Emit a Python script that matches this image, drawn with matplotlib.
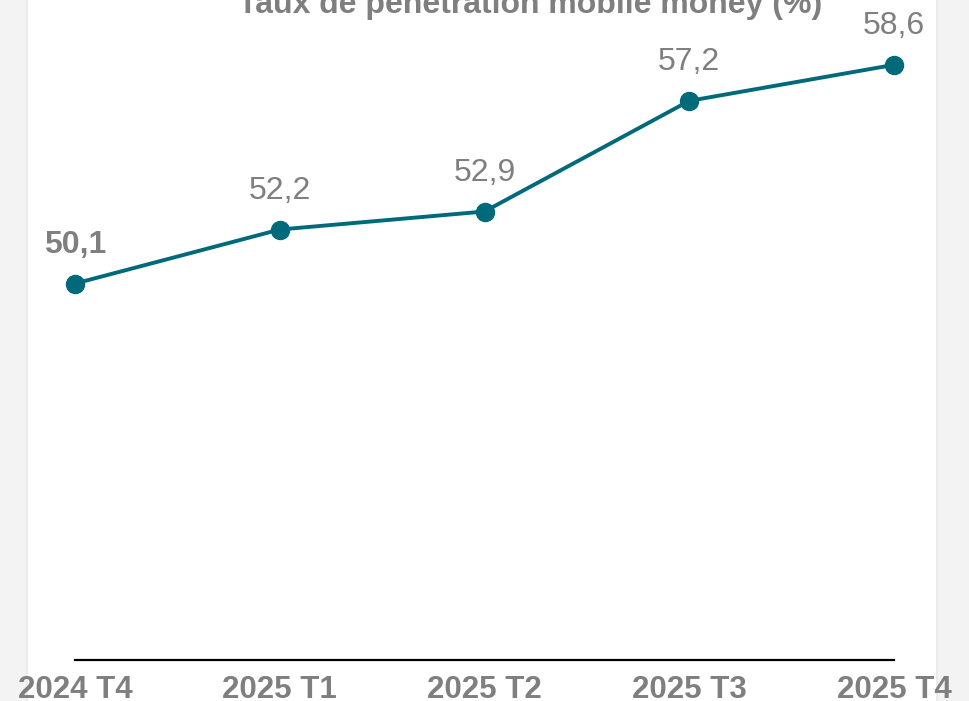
import matplotlib
matplotlib.use('Agg')
import matplotlib.pyplot as plt
from matplotlib.patches import FancyBboxPatch

periods = ['2024 T4', '2025 T1', '2025 T2', '2025 T3', '2025 T4']
rates = [50.1, 52.2, 52.9, 57.2, 58.6]
labels = ['50,1', '52,2', '52,9', '57,2', '58,6']

plt.rcParams['font.family'] = ['Liberation Sans', 'DejaVu Sans']
W, H = 970, 701
fig = plt.figure(figsize=(W / 100, H / 100), dpi=100)
fig.patch.set_facecolor('#f3f3f3')

# white card behind the chart, in its own background axes
bg = fig.add_axes([0, 0, 1, 1], zorder=-1)
bg.axis('off')
bg.set_xlim(0, W)
bg.set_ylim(H, 0)
bg.add_patch(FancyBboxPatch((27, -40), 910, 780,
                            boxstyle='round,pad=0,rounding_size=30',
                            facecolor='white', edgecolor='#ebebeb',
                            linewidth=1.5))

ax = fig.add_axes([75 / W, 41 / H, (894 - 75) / W, 660 / H])
ax.set_facecolor('none')
x = list(range(len(periods)))
ax.plot(x, rates, color='#006a7a', linewidth=2.8, marker='o',
        markersize=13, clip_on=False, zorder=3)
ax.set_xlim(0, len(periods) - 1)
ax.set_ylim(35.47, 61.12)

for i, (v, s) in enumerate(zip(rates, labels)):
    bold = i == 0
    ax.annotate(s, (i, v), xytext=(0, 17), textcoords='offset points',
                ha='center', va='bottom', fontsize=23, color='#7f7f7f',
                fontweight='bold' if bold else 'normal')

for side in ['top', 'right', 'left']:
    ax.spines[side].set_visible(False)
ax.spines['bottom'].set_linewidth(1.6)
ax.spines['bottom'].set_color('black')
ax.set_yticks([])
ax.set_xticks(x)
ax.set_xticklabels(periods, fontsize=22.5, fontweight='bold', color='#7f7f7f')
ax.tick_params(axis='x', length=0, pad=11)

fig.text(530 / W, 1 - 13 / H, 'Taux de pénétration mobile money (%)',
         ha='center', va='baseline', fontsize=23, fontweight='bold',
         color='#7f7f7f')

fig.savefig('out.png', dpi=100)
